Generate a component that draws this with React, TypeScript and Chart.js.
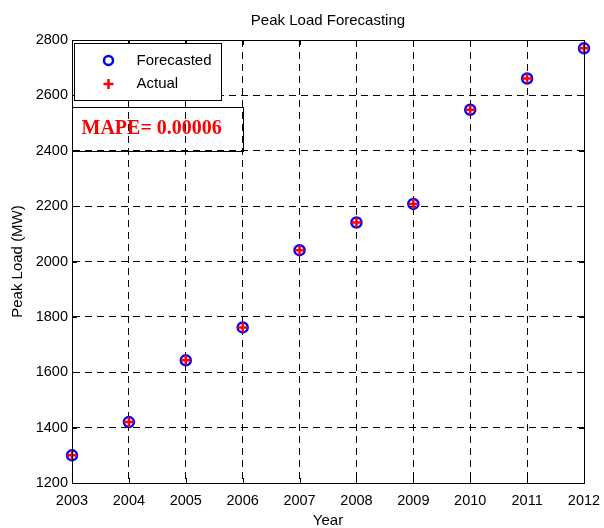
import React, { useEffect, useRef } from "react";
import { Chart, registerables } from "chart.js";

Chart.register(...registerables);

const years = [2003, 2004, 2005, 2006, 2007, 2008, 2009, 2010, 2011, 2012];
const forecasted = [1300, 1420, 1643, 1762, 2041, 2141, 2208, 2548, 2661, 2770];
const actual = [1300, 1420, 1643, 1762, 2041, 2141, 2208, 2548, 2661, 2770];
const yTicks = [1200, 1400, 1600, 1800, 2000, 2200, 2400, 2600, 2800];
const legendLabels = ["Forecasted", "Actual"];
const titleText = "Peak Load Forecasting";
const xTitle = "Year";
const yTitle = "Peak Load (MW)";
const mapeText = "MAPE= 0.00006";

const SANS = "'Liberation Sans', Arial, sans-serif";
const SERIF = "'Liberation Serif', 'Times New Roman', serif";

const overlayPlugin = {
  id: "matlabOverlay",
  afterDraw(chart: any) {
    const ctx = chart.ctx;
    const { left, right, top, bottom } = chart.chartArea;
    const xs = chart.scales.x;
    const ys = chart.scales.y;
    ctx.save();
    // frame
    ctx.strokeStyle = "#000";
    ctx.lineWidth = 1;
    ctx.setLineDash([]);
    ctx.strokeRect(Math.round(left) + 0.5, Math.round(top) + 0.5, Math.round(right - left), Math.round(bottom - top));
    // inner ticks
    const tl = 5;
    ctx.beginPath();
    years.forEach((v) => {
      const px = Math.round(xs.getPixelForValue(v)) + 0.5;
      ctx.moveTo(px, bottom);
      ctx.lineTo(px, bottom - tl);
      ctx.moveTo(px, top);
      ctx.lineTo(px, top + tl);
    });
    yTicks.forEach((v) => {
      const py = Math.round(ys.getPixelForValue(v)) + 0.5;
      ctx.moveTo(left, py);
      ctx.lineTo(left + tl, py);
      ctx.moveTo(right, py);
      ctx.lineTo(right - tl, py);
    });
    ctx.stroke();

    // legend box
    const lx = left + 2.5;
    const ly = top + 3.5;
    const lw = 147;
    const lh = 57;
    ctx.fillStyle = "#fff";
    ctx.fillRect(lx, ly, lw, lh);
    ctx.strokeStyle = "#000";
    ctx.lineWidth = 1;
    ctx.strokeRect(lx, ly, lw, lh);
    // circle marker
    ctx.beginPath();
    ctx.strokeStyle = "#0000ff";
    ctx.lineWidth = 2.5;
    ctx.arc(lx + 34, ly + 17, 4.5, 0, Math.PI * 2);
    ctx.stroke();
    // cross marker
    ctx.beginPath();
    ctx.strokeStyle = "#ff0000";
    ctx.lineWidth = 2.5;
    const cx = lx + 34;
    const cy = ly + 40.5;
    ctx.moveTo(cx - 5, cy);
    ctx.lineTo(cx + 5, cy);
    ctx.moveTo(cx, cy - 5);
    ctx.lineTo(cx, cy + 5);
    ctx.stroke();
    ctx.fillStyle = "#000";
    ctx.font = `15px ${SANS}`;
    ctx.textBaseline = "middle";
    ctx.textAlign = "left";
    ctx.fillText(legendLabels[0], lx + 62, ly + 17);
    ctx.fillText(legendLabels[1], lx + 62, ly + 40.5);

    // MAPE box
    const mx = left + 0.5;
    const my = top + 67.5;
    ctx.strokeStyle = "#000";
    ctx.lineWidth = 1;
    ctx.strokeRect(mx, my, 171, 44);
    ctx.fillStyle = "#ff0000";
    ctx.font = `bold 20px ${SERIF}`;
    ctx.textBaseline = "alphabetic";
    ctx.fillText(mapeText, mx + 9, my + 26);
    ctx.restore();
  },
};

export default function App() {
  const ref = useRef<HTMLCanvasElement | null>(null);
  useEffect(() => {
    if (!ref.current) return;
    const gridCommon = {
      color: "#000",
      lineWidth: 1,
      drawTicks: false,
    };
    const chart = new Chart(ref.current, {
      type: "scatter",
      data: {
        datasets: [
          {
            label: legendLabels[0],
            data: years.map((y, i) => ({ x: y, y: forecasted[i] })),
            pointStyle: "circle",
            pointRadius: 5,
            pointBorderWidth: 2.5,
            borderColor: "#0000ff",
            backgroundColor: "rgba(0,0,0,0)",
            clip: false,
            order: 1,
          },
          {
            label: legendLabels[1],
            data: years.map((y, i) => ({ x: y, y: actual[i] })),
            pointStyle: "cross",
            pointRadius: 5,
            pointBorderWidth: 2.5,
            borderColor: "#ff0000",
            backgroundColor: "#ff0000",
            clip: false,
            order: 0,
          },
        ],
      },
      options: {
        animation: false,
        responsive: false,
        layout: { padding: { left: 0, right: 20, top: 0, bottom: 0 } },
        plugins: {
          legend: { display: false },
          tooltip: { enabled: false },
          title: {
            display: true,
            fullSize: false,
            text: titleText,
            color: "#000",
            font: { family: SANS, size: 15, weight: "normal", lineHeight: 1.2 },
            padding: { top: 12, bottom: 10 },
          },
        },
        scales: {
          x: {
            type: "linear",
            min: 2003,
            max: 2012,
            afterBuildTicks: (scale: any) => {
              scale.ticks = years.map((v) => ({ value: v }));
            },
            afterFit: (scale: any) => {
              scale.height = 45;
              scale.paddingLeft = 0;
              scale.paddingRight = 0;
            },
            ticks: {
              color: "#000",
              font: { family: SANS, size: 14.5 },
              padding: 9,
              maxRotation: 0,
              callback: (v: any) => String(v),
            },
            grid: { ...gridCommon },
            border: { display: true, color: "#000", dash: [7, 5] },
            title: {
              display: true,
              text: xTitle,
              color: "#000",
              font: { family: SANS, size: 15, lineHeight: 1 },
              padding: { top: 0, bottom: 0 },
            },
          },
          y: {
            type: "linear",
            min: 1200,
            max: 2800,
            afterBuildTicks: (scale: any) => {
              scale.ticks = yTicks.map((v) => ({ value: v }));
            },
            afterFit: (scale: any) => {
              scale.width = 72;
              scale.paddingTop = 0;
              scale.paddingBottom = 0;
            },
            ticks: {
              color: "#000",
              font: { family: SANS, size: 14.5 },
              padding: 4,
              callback: (v: any) => String(v),
            },
            grid: { ...gridCommon },
            border: { display: true, color: "#000", dash: [7, 5] },
            title: {
              display: true,
              text: yTitle,
              color: "#000",
              font: { family: SANS, size: 15, lineHeight: 1.2 },
              padding: { top: 9, bottom: 0 },
            },
          },
        },
      },
      plugins: [overlayPlugin],
    } as any);
    return () => chart.destroy();
  }, []);
  return (
    <div style={{ position: "fixed", left: 0, top: 0, width: 604, height: 528, background: "#fff" }}>
      <canvas ref={ref} width={604} height={528} style={{ display: "block" }} />
    </div>
  );
}
